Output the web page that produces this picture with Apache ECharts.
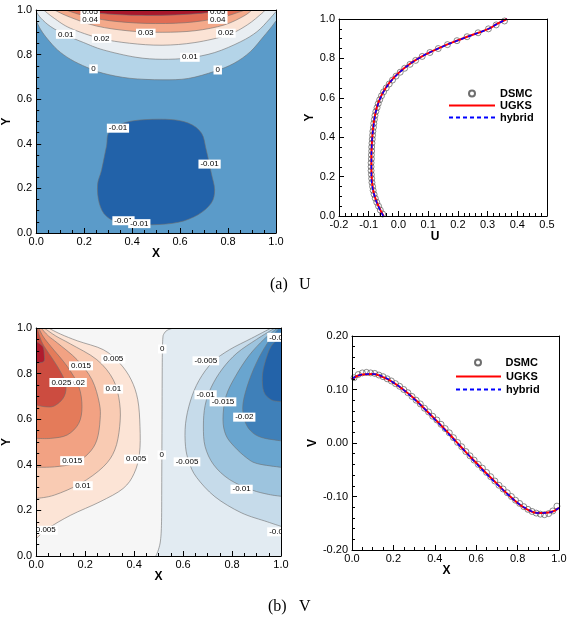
<!DOCTYPE html>
<html><head><meta charset="utf-8">
<script src="https://cdn.jsdelivr.net/npm/echarts@6.0.0/dist/echarts.min.js"></script>
<style>html,body{margin:0;padding:0;background:#fff}#c{width:572px;height:623px}</style>
</head><body><div id="c"></div>
<script>
// ---------------- DATA ----------------
// U contour lines (x, y)
const uC0 = [[0,0.952],[0.02,0.91],[0.048,0.869],[0.089,0.821],[0.143,0.779],[0.211,0.743],[0.28,0.716],[0.389,0.694],[0.525,0.687],[0.634,0.693],[0.744,0.725],[0.825,0.761],[0.893,0.813],[0.948,0.881],[0.982,0.925],[1,0.952]];
const uC1 = [[0,0.993],[0.02,0.963],[0.061,0.925],[0.123,0.888],[0.198,0.854],[0.28,0.821],[0.416,0.788],[0.525,0.779],[0.634,0.785],[0.744,0.809],[0.853,0.858],[0.921,0.903],[0.969,0.955],[1,0.993]];
const uC2 = [[0.031,1.0],[0.075,0.963],[0.143,0.918],[0.266,0.873],[0.389,0.851],[0.525,0.842],[0.662,0.854],[0.798,0.888],[0.88,0.933],[0.941,0.985],[0.955,1.0]];
const uC3 = [[0.075,1.0],[0.143,0.967],[0.252,0.928],[0.389,0.906],[0.525,0.9],[0.662,0.907],[0.784,0.933],[0.866,0.973],[0.9,1.0]];
const uC4 = [[0.123,1.0],[0.198,0.975],[0.307,0.952],[0.457,0.94],[0.621,0.943],[0.757,0.963],[0.853,0.993],[0.866,1.0]];
const uC5 = [[0.184,1.0],[0.266,0.985],[0.416,0.976],[0.58,0.978],[0.716,0.988],[0.798,1.0]];
const uBlob = [[0.307,0.455],[0.389,0.5],[0.539,0.51],[0.634,0.493],[0.689,0.448],[0.709,0.373],[0.73,0.269],[0.744,0.194],[0.73,0.134],[0.675,0.082],[0.593,0.048],[0.484,0.037],[0.362,0.042],[0.293,0.075],[0.263,0.134],[0.256,0.216],[0.273,0.284],[0.293,0.388]];
const uLevels = ['0','0.01','0.02','0.03','0.04','0.05','-0.01'];
const uLabelPos = [[0.225,0.992],[0.757,0.994],[0.225,0.958],[0.757,0.958],[0.457,0.896],[0.273,0.873],[0.791,0.896],[0.123,0.891],[0.641,0.788],[0.239,0.736],[0.757,0.731],[0.341,0.47],[0.723,0.309],[0.364,0.055],[0.43,0.042]];
const uLabelText = ['0.05','0.05','0.04','0.04','0.03','0.02','0.02','0.01','0.01','0','0','-0.01','-0.01','-0.01','-0.01'];

// V contour lines
const vZ  = [[0.56,1],[0.535,0.99],[0.522,0.975],[0.517,0.95],[0.515,0.85],[0.514,0.6],[0.513,0.35],[0.512,0.15],[0.508,0.07],[0.5,0.03],[0.489,0]];
const vP1 = [[0.05,1.0],[0.1,0.973],[0.17,0.943],[0.274,0.905],[0.341,0.846],[0.388,0.773],[0.415,0.685],[0.424,0.567],[0.422,0.45],[0.40,0.362],[0.355,0.296],[0.261,0.238],[0.141,0.179],[0.047,0.12],[0,0.076]];
const vP2 = [[0.033,1.0],[0.08,0.965],[0.14,0.93],[0.248,0.861],[0.315,0.773],[0.341,0.67],[0.341,0.567],[0.321,0.465],[0.274,0.391],[0.181,0.318],[0.074,0.267],[0,0.252]];
const vP3 = [[0.02,1.0],[0.05,0.965],[0.087,0.934],[0.167,0.861],[0.228,0.773],[0.258,0.67],[0.261,0.597],[0.248,0.509],[0.214,0.45],[0.154,0.406],[0.074,0.391],[0,0.389]];
const vP4 = [[0.01,1.0],[0.03,0.96],[0.06,0.919],[0.127,0.831],[0.174,0.743],[0.187,0.655],[0.174,0.582],[0.127,0.531],[0.06,0.516],[0,0.516]];
const vP5 = [[0.004,1.0],[0.015,0.96],[0.033,0.919],[0.087,0.831],[0.12,0.758],[0.114,0.699],[0.074,0.658],[0.033,0.655],[0,0.663]];
const vP6 = [[0,0.941],[0.027,0.919],[0.033,0.883],[0.031,0.853],[0,0.846]];
const vN1 = [[0.96,1.0],[0.88,0.955],[0.79,0.905],[0.72,0.85],[0.665,0.77],[0.63,0.68],[0.61,0.58],[0.61,0.48],[0.625,0.41],[0.655,0.345],[0.73,0.26],[0.837,0.19],[0.944,0.15],[1,0.13]];
const vN2 = [[0.975,1.0],[0.9,0.95],[0.82,0.89],[0.76,0.82],[0.715,0.74],[0.69,0.66],[0.683,0.57],[0.69,0.48],[0.725,0.4],[0.79,0.335],[0.88,0.29],[0.95,0.27],[1,0.262]];
const vN3 = [[0.985,1.0],[0.93,0.95],[0.87,0.88],[0.815,0.79],[0.775,0.7],[0.763,0.6],[0.775,0.53],[0.81,0.479],[0.86,0.43],[0.904,0.405],[1,0.389]];
const vN4 = [[0.993,1.0],[0.955,0.95],[0.91,0.87],[0.87,0.77],[0.845,0.67],[0.85,0.6],[0.875,0.55],[0.92,0.52],[1,0.505]];
const vN5 = [[1,0.963],[0.96,0.92],[0.935,0.85],[0.924,0.787],[0.93,0.72],[0.96,0.685],[1,0.677]];
const vLabelPos = [[0.315,0.864],[0.183,0.834],[0.167,0.761],[0.103,0.761],[0.315,0.732],[0.147,0.418],[0.408,0.425],[0.191,0.308],[0.039,0.113],[0.515,0.908],[0.513,0.443],[0.693,0.856],[0.692,0.707],[0.763,0.676],[0.85,0.609],[0.616,0.413],[0.839,0.293],[0.989,0.959],[0.998,0.106]];
const vLabelText = ['0.005','0.015','0.02','0.025','0.01','0.015','0.005','0.01','0.005','0','0','-0.005','-0.01','-0.015','-0.02','-0.005','-0.01','-0.02','-0.005'];

// U profile (Y vs U)
const uDsmcY = [0.01,0.03,0.05,0.07,0.09,0.11,0.13,0.15,0.17,0.19,0.21,0.23,0.25,0.27,0.29,0.31,0.33,0.35,0.37,0.39,0.41,0.43,0.45,0.47,0.49,0.51,0.53,0.55,0.57,0.59,0.61,0.63,0.65,0.67,0.69,0.71,0.73,0.75,0.77,0.79,0.81,0.83,0.85,0.87,0.89,0.91,0.93,0.95,0.97,0.99];
const uDsmcU = [-0.053,-0.061,-0.067,-0.073,-0.078,-0.082,-0.085,-0.087,-0.089,-0.090,-0.091,-0.092,-0.092,-0.092,-0.091,-0.091,-0.090,-0.090,-0.089,-0.088,-0.087,-0.086,-0.084,-0.083,-0.081,-0.079,-0.076,-0.072,-0.068,-0.063,-0.057,-0.050,-0.041,-0.031,-0.020,-0.008,0.006,0.021,0.039,0.058,0.080,0.106,0.134,0.165,0.197,0.231,0.268,0.303,0.329,0.357];
const uLineY = [0,0.05,0.1,0.15,0.2,0.25,0.3,0.35,0.4,0.45,0.5,0.55,0.6,0.65,0.7,0.75,0.8,0.85,0.9,0.95,0.975,1.0];
const uUgks = [-0.050,-0.067,-0.080,-0.087,-0.090,-0.091,-0.091,-0.090,-0.088,-0.085,-0.080,-0.073,-0.061,-0.043,-0.017,0.019,0.067,0.133,0.214,0.303,0.332,0.365];
const uHybrid = [-0.051,-0.068,-0.080,-0.088,-0.091,-0.091,-0.091,-0.090,-0.088,-0.084,-0.080,-0.072,-0.060,-0.042,-0.016,0.020,0.068,0.134,0.215,0.303,0.332,0.365];

// V profile (V vs X)
const vDsmcX = [0.01,0.03,0.05,0.07,0.09,0.11,0.13,0.15,0.17,0.19,0.21,0.23,0.25,0.27,0.29,0.31,0.33,0.35,0.37,0.39,0.41,0.43,0.45,0.47,0.49,0.51,0.53,0.55,0.57,0.59,0.61,0.63,0.65,0.67,0.69,0.71,0.73,0.75,0.77,0.79,0.81,0.83,0.85,0.87,0.89,0.91,0.93,0.95,0.97,0.99];
const vDsmcV = [0.122,0.128,0.131,0.132,0.131,0.130,0.127,0.124,0.120,0.116,0.111,0.106,0.100,0.094,0.087,0.080,0.073,0.065,0.058,0.050,0.043,0.035,0.027,0.019,0.010,0.001,-0.007,-0.016,-0.024,-0.032,-0.040,-0.047,-0.055,-0.063,-0.071,-0.079,-0.086,-0.093,-0.100,-0.107,-0.113,-0.119,-0.124,-0.128,-0.131,-0.133,-0.134,-0.132,-0.127,-0.118];
const vLineX = [0,0.05,0.1,0.15,0.2,0.25,0.3,0.35,0.4,0.45,0.5,0.55,0.6,0.65,0.7,0.75,0.8,0.85,0.9,0.95,1.0];
const vUgks = [0.119,0.128,0.129,0.123,0.113,0.099,0.083,0.064,0.045,0.025,0.004,-0.017,-0.037,-0.057,-0.076,-0.095,-0.112,-0.125,-0.131,-0.130,-0.121];
const vHybrid = [0.120,0.128,0.129,0.124,0.113,0.099,0.082,0.064,0.044,0.024,0.003,-0.017,-0.038,-0.058,-0.077,-0.095,-0.112,-0.124,-0.131,-0.130,-0.121];

// ---------------- STYLE / ASSEMBLY ----------------
const FONT = 'Liberation Sans';
const LINE_COLOR = '#6f6f6f';
const TOP = [[1,1],[0,1]], TL = [[0,1]], TR = [[1,1]], LEFTSIDE = [[0,0],[0,1]];
const uContours = [
  {pts:uC0, close:TOP, color:'#b4d4e8'},
  {pts:uC1, close:TOP, color:'#e9eef2'},
  {pts:uC2, close:TOP, color:'#fbe3d5'},
  {pts:uC3, close:TOP, color:'#f4a98a'},
  {pts:uC4, close:TOP, color:'#e16d55'},
  {pts:uC5, close:TOP, color:'#a8172b'},
  {pts:uBlob, loop:true, color:'#2262a9'}
];
const vContours = [
  {pts:vZ, close:LEFTSIDE, color:'#f6f6f6'},
  {pts:vP1, close:TL, color:'#fce4d6'},
  {pts:vP2, close:TL, color:'#f9cbb3'},
  {pts:vP3, close:TL, color:'#f2a283'},
  {pts:vP4, close:TL, color:'#e47b5a'},
  {pts:vP5, close:TL, color:'#cc4c40'},
  {pts:vP6, close:[], color:'#b01b2e'},
  {pts:vN1, close:TR, color:'#c6dbea'},
  {pts:vN2, close:TR, color:'#9dc4de'},
  {pts:vN3, close:TR, color:'#69a5cf'},
  {pts:vN4, close:TR, color:'#3f80b9'},
  {pts:vN5, close:[], color:'#2363a9'}
];

function curvePath(p, loop){
  const n = p.length;
  const get = i => loop ? p[(i + n) % n] : p[Math.max(0, Math.min(n - 1, i))];
  let d = 'M' + p[0][0] + ' ' + p[0][1];
  const segs = loop ? n : n - 1;
  for (let i = 0; i < segs; i++) {
    const p0 = get(i - 1), p1 = get(i), p2 = get(i + 1), p3 = get(i + 2);
    const c1 = [p1[0] + (p2[0] - p0[0]) / 6, p1[1] + (p2[1] - p0[1]) / 6];
    const c2 = [p2[0] - (p3[0] - p1[0]) / 6, p2[1] - (p3[1] - p1[1]) / 6];
    d += ' C' + c1[0] + ' ' + c1[1] + ' ' + c2[0] + ' ' + c2[1] + ' ' + p2[0] + ' ' + p2[1];
  }
  return d;
}

function contourSeries(list, gi){
  return {
    type:'custom', xAxisIndex:gi*2, yAxisIndex:gi*2, clip:true, silent:true, z:2,
    data: list.map(c => c.pts[0]),
    renderItem: function(params, api){
      const c = list[params.dataIndex];
      const px = c.pts.map(q => api.coord(q));
      const curve = curvePath(px, !!c.loop);
      let fillD = curve;
      if (!c.loop) (c.close || []).forEach(q => { const r = api.coord(q); fillD += ' L' + r[0] + ' ' + r[1]; });
      fillD += ' Z';
      return {type:'group', children:[
        {type:'path', shape:{pathData:fillD}, style:{fill:c.color, stroke:null}},
        {type:'path', shape:{pathData: curve + (c.loop ? ' Z' : '')}, style:{fill:null, stroke:LINE_COLOR, lineWidth:0.6}}
      ]};
    }
  };
}
function labelSeries(pos, texts, gi){
  return {
    type:'custom', xAxisIndex:gi*2, yAxisIndex:gi*2, clip:true, silent:true, z:3,
    data: pos,
    renderItem: function(params, api){
      const p = api.coord([api.value(0), api.value(1)]);
      return {type:'text', x:p[0], y:p[1], style:{text:texts[params.dataIndex], font:'8px "' + FONT + '"', fill:'#000', align:'center', verticalAlign:'middle', backgroundColor:'#fff', padding:[1,2,0,2]}};
    }
  };
}

function mainX(gi, min, max, interval, minorSplit, dec, name, nameGap, shift){
  return {gridIndex:gi, type:'value', position:'bottom', min, max, interval, z:10,
    axisLine:{show:true, onZero:false, lineStyle:{color:'#000', width:1}},
    axisTick:{show:true, inside:true, length:5, lineStyle:{color:'#000'}},
    minorTick:{show:true, splitNumber:minorSplit, length:3, lineStyle:{color:'#000'}},
    splitLine:{show:false}, minorSplitLine:{show:false},
    axisLabel:{color:'#000', fontSize:11, fontFamily:FONT, margin:3, formatter: v => v.toFixed(dec)},
    name, nameLocation:'middle', nameGap,
    nameTextStyle:{color:'#000', fontSize:12, fontWeight:'bold', fontFamily:FONT, padding:[0, shift || 0, 0, 0]}};
}
function mainY(gi, min, max, interval, minorSplit, dec, name, nameGap){
  return {gridIndex:gi, type:'value', position:'left', min, max, interval, z:10,
    axisLine:{show:true, onZero:false, lineStyle:{color:'#000', width:1}},
    axisTick:{show:true, inside:true, length:5, lineStyle:{color:'#000'}},
    minorTick:{show:true, splitNumber:minorSplit, length:3, lineStyle:{color:'#000'}},
    splitLine:{show:false}, minorSplitLine:{show:false},
    axisLabel:{color:'#000', fontSize:11, fontFamily:FONT, margin:4, formatter: v => v.toFixed(dec)},
    name, nameLocation:'middle', nameRotate:90, nameGap, nameTextStyle:{color:'#000', fontSize:12, fontWeight:'bold', fontFamily:FONT}};
}
function frame(gi, min, max, position){
  return {gridIndex:gi, type:'value', position, min, max, z:10,
    axisLine:{show:true, onZero:false, lineStyle:{color:'#000', width:1}},
    axisTick:{show:false}, axisLabel:{show:false}, splitLine:{show:false}};
}
function leg(name, left, top, itemWidth, itemHeight, hideSymbol){
  const l = {data:[name], left, top, orient:'vertical', itemWidth, itemHeight, itemGap:0, padding:0, selectedMode:false,
    textStyle:{fontFamily:FONT, fontSize:11, fontWeight:'bold', color:'#000'}};
  if (hideSymbol) l.itemStyle = {opacity:0};
  return l;
}
const serif = '16px "Liberation Serif"';

const dsmcStyle = {color:'rgba(255,255,255,0)', borderColor:'#4a4a4a', borderWidth:0.8};
const option = {
  animation:false,
  backgroundColor:'#fff',
  grid:[
    {left:32, top:10, width:244, height:223, show:true, backgroundColor:'#5b9bc9', borderWidth:0},
    {left:339, top:19, width:208, height:197},
    {left:32, top:328, width:249, height:228, show:true, backgroundColor:'#e2ebf2', borderWidth:0},
    {left:352, top:336, width:207, height:214}
  ],
  xAxis:[
    mainX(0, 0, 1, 0.2, 4, 1, 'X', 7), frame(0, 0, 1, 'top'),
    mainX(1, -0.2, 0.5, 0.1, 5, 1, 'U', 10, 16), frame(1, -0.2, 0.5, 'top'),
    mainX(2, 0, 1, 0.2, 4, 1, 'X', 7), frame(2, 0, 1, 'top'),
    mainX(3, 0, 1, 0.2, 4, 1, 'X', 11, 18), frame(3, 0, 1, 'top')
  ],
  yAxis:[
    mainY(0, 0, 1, 0.2, 4, 1, 'Y', 15), frame(0, 0, 1, 'right'),
    mainY(1, 0, 1, 0.2, 4, 1, 'Y', 19), frame(1, 0, 1, 'right'),
    mainY(2, 0, 1, 0.2, 4, 1, 'Y', 15), frame(2, 0, 1, 'right'),
    mainY(3, -0.2, 0.2, 0.1, 5, 2, 'V', 22), frame(3, -0.2, 0.2, 'right')
  ],
  legend:[
    leg('DSMC', 468, 88, 46, 6), leg('UGKS', 448, 100, 46, 10, true), leg('hybrid', 448, 112, 46, 10, true),
    leg('DSMC', 474, 357, 45, 6), leg('UGKS', 455, 371, 45, 10, true), leg('hybrid', 455, 384, 45, 10, true)
  ],
  series:[
    contourSeries(uContours, 0),
    labelSeries(uLabelPos, uLabelText, 0),
    contourSeries(vContours, 2),
    labelSeries(vLabelPos, vLabelText, 2),
    {type:'scatter', name:'DSMC', xAxisIndex:2, yAxisIndex:2, z:2, symbol:'circle', symbolSize:6,
      itemStyle:dsmcStyle, data: uDsmcU.map((u, i) => [u, uDsmcY[i]])},
    {type:'line', name:'UGKS', xAxisIndex:2, yAxisIndex:2, z:3, symbol:'none', smooth:true,
      lineStyle:{color:'#ff0000', width:2}, itemStyle:{color:'#ff0000'}, data: uUgks.map((u, i) => [u, uLineY[i]])},
    {type:'line', name:'hybrid', xAxisIndex:2, yAxisIndex:2, z:4, symbol:'none', smooth:true,
      lineStyle:{color:'#0000ff', width:1.5, type:[4,3]}, itemStyle:{color:'#0000ff'}, data: uHybrid.map((u, i) => [u, uLineY[i]])},
    {type:'scatter', name:'DSMC', xAxisIndex:6, yAxisIndex:6, z:2, symbol:'circle', symbolSize:6,
      itemStyle:dsmcStyle, data: vDsmcV.map((v, i) => [vDsmcX[i], v])},
    {type:'line', name:'UGKS', xAxisIndex:6, yAxisIndex:6, z:3, symbol:'none', smooth:true,
      lineStyle:{color:'#ff0000', width:2}, itemStyle:{color:'#ff0000'}, data: vUgks.map((v, i) => [vLineX[i], v])},
    {type:'line', name:'hybrid', xAxisIndex:6, yAxisIndex:6, z:4, symbol:'none', smooth:true,
      lineStyle:{color:'#0000ff', width:1.5, type:[4,3]}, itemStyle:{color:'#0000ff'}, data: vHybrid.map((v, i) => [vLineX[i], v])}
  ],
  graphic:[
    {type:'text', x:270, y:285, style:{text:'(a)', font:serif, fill:'#000', verticalAlign:'middle'}},
    {type:'text', x:299, y:285, style:{text:'U', font:serif, fill:'#000', verticalAlign:'middle'}},
    {type:'text', x:268, y:607, style:{text:'(b)', font:serif, fill:'#000', verticalAlign:'middle'}},
    {type:'text', x:299, y:607, style:{text:'V', font:serif, fill:'#000', verticalAlign:'middle'}}
  ]
};
const chart = echarts.init(document.getElementById('c'));
chart.setOption(option);
</script></body></html>
